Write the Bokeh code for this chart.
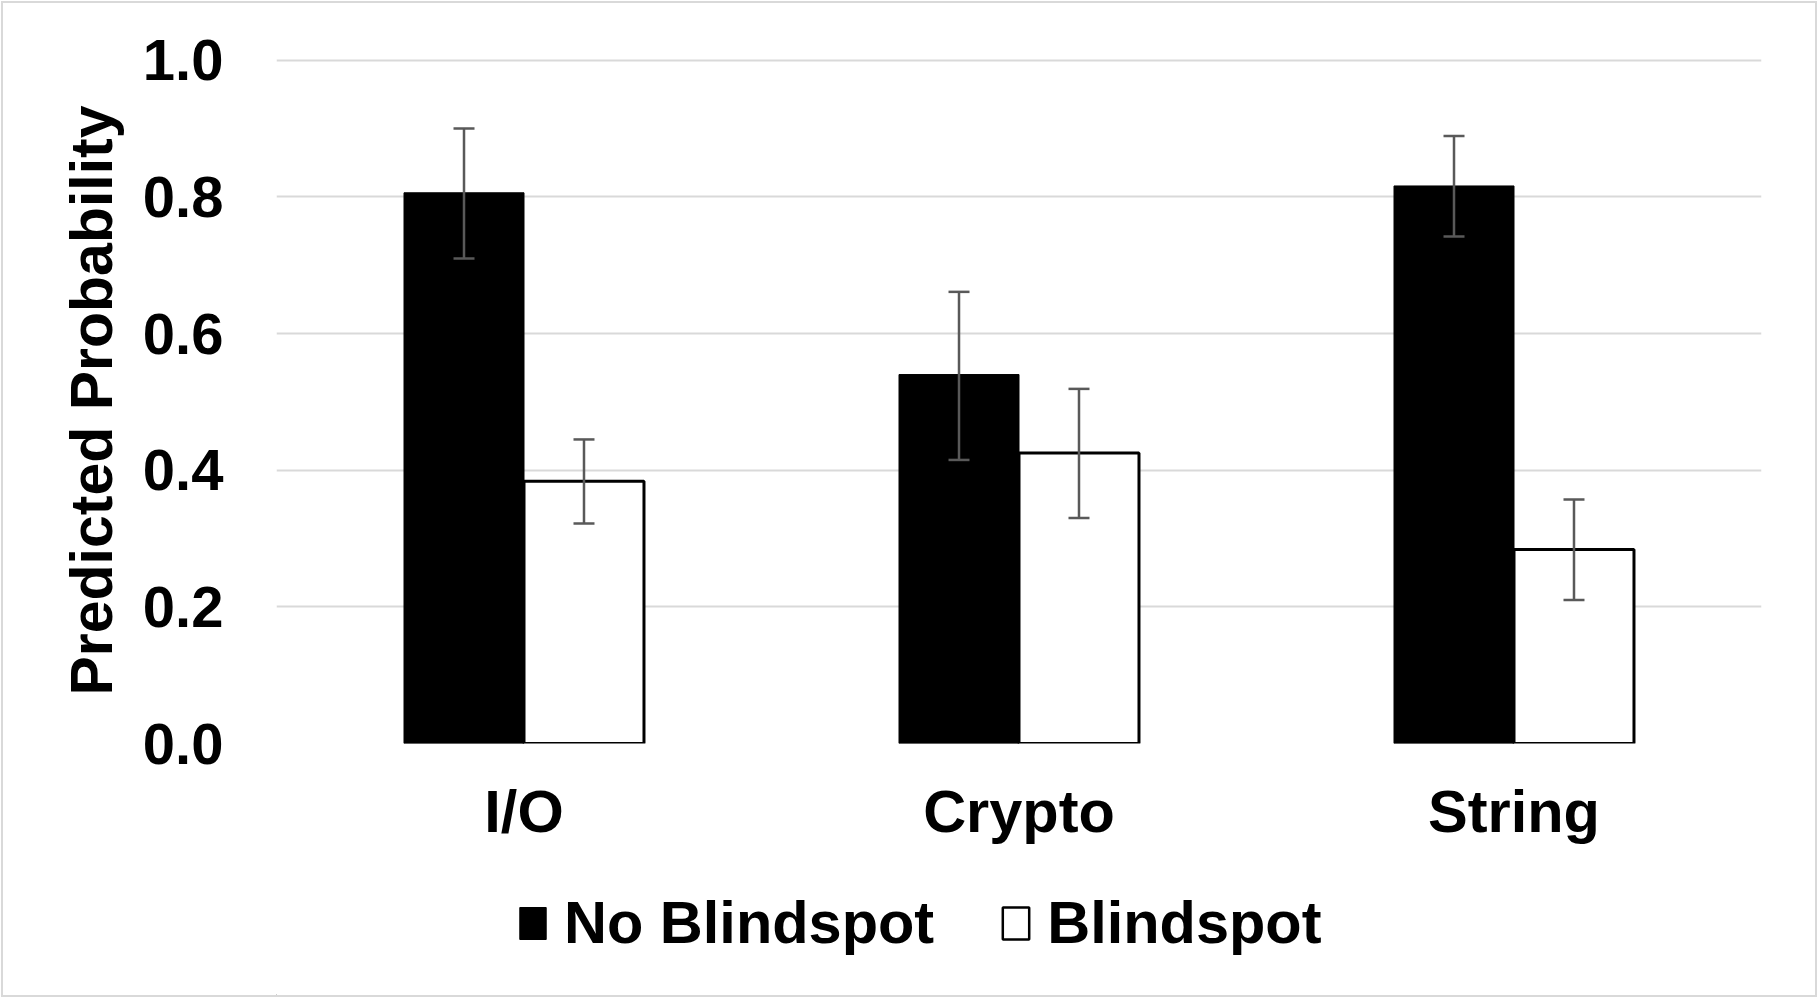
from bokeh.plotting import figure
from bokeh.layouts import column
from bokeh.models import (ColumnDataSource, FactorRange, Range1d, FixedTicker,
                          PrintfTickFormatter, Legend, LegendItem)
from bokeh.transform import dodge
from bokeh.embed import file_html
from bokeh.resources import INLINE

# ---- data ----
categories = ["I/O", "Crypto", "String"]
series_names = ["No Blindspot", "Blindspot"]
no_blindspot = [0.806, 0.540, 0.816]
no_blindspot_upper = [0.900, 0.661, 0.889]
no_blindspot_lower = [0.710, 0.415, 0.742]
blindspot = [0.384, 0.425, 0.284]
blindspot_upper = [0.445, 0.519, 0.357]
blindspot_lower = [0.322, 0.330, 0.210]
y_ticks = [0.0, 0.2, 0.4, 0.6, 0.8, 1.0]

src = ColumnDataSource(data=dict(
    cat=categories,
    nb=no_blindspot, nb_up=no_blindspot_upper, nb_lo=no_blindspot_lower,
    b=blindspot, b_up=blindspot_upper, b_lo=blindspot_lower,
))

FONT = "Liberation Sans"
FS = "58px"
FS2 = "59.5px"
BW = 0.2424
OFF = BW / 2
CAP = 0.0212
ERR = "#595959"
W = 1812
H1 = 857
H2 = 135

p = figure(width=W, height=H1,
           x_range=FactorRange(*categories, range_padding=0),
           y_range=Range1d(0, 1.004),
           output_backend="svg", toolbar_location=None,
           min_border_left=273, min_border_right=54,
           min_border_top=54, min_border_bottom=H1 - 740)
p.outline_line_color = None
p.background_fill_color = "white"
p.border_fill_color = "white"

# bars
p.vbar(x=dodge("cat", -OFF, range=p.x_range), top="nb", width=BW,
       fill_color="black", line_color="black", line_width=1, source=src)
p.vbar(x=dodge("cat", OFF, range=p.x_range), top="b", width=BW,
       fill_color="white", line_color="black", line_width=3, source=src)

# error bars
for off, up, lo in [(-OFF, "nb_up", "nb_lo"), (OFF, "b_up", "b_lo")]:
    p.segment(x0=dodge("cat", off, range=p.x_range), y0=lo,
              x1=dodge("cat", off, range=p.x_range), y1=up,
              line_color=ERR, line_width=2.5, source=src)
    for yy in (up, lo):
        p.segment(x0=dodge("cat", off - CAP, range=p.x_range), y0=yy,
                  x1=dodge("cat", off + CAP, range=p.x_range), y1=yy,
                  line_color=ERR, line_width=2.5, source=src)

# grid
p.xgrid.grid_line_color = None
p.ygrid.ticker = FixedTicker(ticks=y_ticks)
p.ygrid.grid_line_color = "#d9d9d9"
p.ygrid.grid_line_width = 2

# y axis
p.yaxis.ticker = FixedTicker(ticks=y_ticks)
p.yaxis.formatter = PrintfTickFormatter(format="%.1f")
p.yaxis.axis_line_color = None
p.yaxis.major_tick_line_color = None
p.yaxis.minor_tick_line_color = None
p.yaxis.major_label_standoff = 47
p.yaxis.major_label_text_font = FONT
p.yaxis.major_label_text_font_style = "bold"
p.yaxis.major_label_text_font_size = FS
p.yaxis.major_label_text_color = "black"
p.yaxis.axis_label = "Predicted Probability"
p.yaxis.axis_label_text_font = FONT
p.yaxis.axis_label_text_font_style = "bold"
p.yaxis.axis_label_text_font_size = "59px"
p.yaxis.axis_label_text_color = "black"
p.yaxis.axis_label_standoff = 15

# x axis
p.xaxis.axis_line_color = None
p.xaxis.major_tick_line_color = None
p.xaxis.minor_tick_line_color = None
p.xaxis.major_label_standoff = 28
p.xaxis.major_label_text_font = FONT
p.xaxis.major_label_text_font_style = "bold"
p.xaxis.major_label_text_font_size = FS2
p.xaxis.major_label_text_color = "black"

# legend strip (separate figure so the legend is not clipped)
p2 = figure(width=W, height=H2, x_range=Range1d(0, 1), y_range=Range1d(0, 1),
            x_axis_type=None, y_axis_type=None,
            output_backend="svg", toolbar_location=None,
            min_border=0, min_border_left=0, min_border_right=0,
            min_border_top=0, min_border_bottom=0)
p2.outline_line_color = None
p2.grid.visible = False
p2.background_fill_color = "white"
p2.border_fill_color = "white"
key_src = ColumnDataSource(data=dict(x=[-5.0], top=[0.0]))
k_nb = p2.vbar(x="x", top="top", width=0.1, fill_color="black",
               line_color="black", line_width=1, source=key_src)
k_b = p2.vbar(x="x", top="top", width=0.1, fill_color="white",
              line_color="black", line_width=2.5, source=key_src)

legend = Legend(items=[LegendItem(label=series_names[0], renderers=[k_nb]),
                       LegendItem(label=series_names[1], renderers=[k_b])],
                orientation="horizontal", location=(240, 38),
                label_text_font=FONT, label_text_font_style="bold",
                label_text_font_size=FS2, label_text_color="black",
                glyph_width=33, glyph_height=40, label_standoff=15,
                spacing=65, padding=0, margin=0,
                border_line_color=None, background_fill_alpha=0)
p2.add_layout(legend, "center")

layout = column(p, p2, spacing=0,
                styles={"margin": "3px", "outline": "2px solid #d9d9d9",
                        "outline-offset": "0px"})

open("out.html", "w").write(file_html(layout, INLINE))
